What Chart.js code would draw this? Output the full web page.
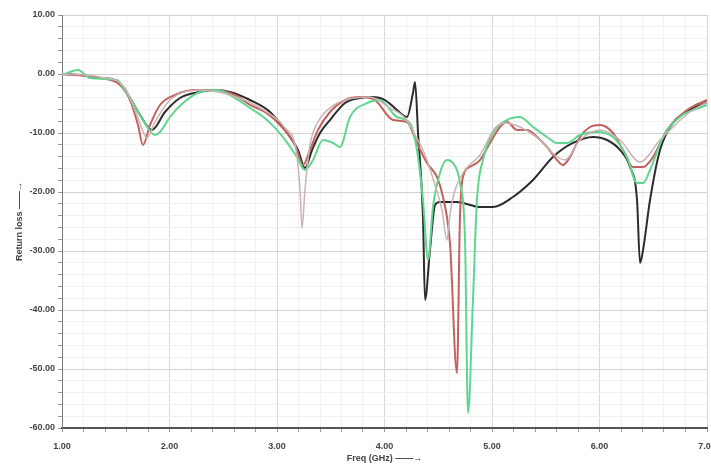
<!DOCTYPE html>
<html>
<head>
<meta charset="utf-8">
<script src="https://cdn.jsdelivr.net/npm/chart.js@4.4.0/dist/chart.umd.min.js"></script>
<style>
  html, body { margin: 0; padding: 0; background: #ffffff; }
  #wrap { width: 711px; height: 466px; position: relative; }
</style>
</head>
<body>
<div id="wrap"><canvas id="c" width="711" height="466"></canvas></div>
<script>
// Frequency (GHz) and return loss (dB)
const blackFreq = [1.000,1.167,1.353,1.493,1.586,1.726,1.837,1.958,2.098,2.284,2.423,2.563,2.749,2.935,3.074,3.195,3.260,3.326,3.400,3.493,3.633,3.772,3.884,4.005,4.116,4.209,4.265,4.284,4.312,4.358,4.377,4.423,4.470,4.516,4.674,4.888,5.009,5.195,5.381,5.567,5.753,5.940,6.070,6.191,6.284,6.349,6.377,6.405,6.470,6.563,6.684,6.842,7.000];
const blackDb   = [0.00,-0.17,-0.68,-1.02,-2.71,-6.95,-9.49,-6.44,-4.07,-3.05,-2.71,-3.05,-4.41,-6.44,-9.49,-12.88,-15.93,-12.88,-10.00,-7.80,-4.92,-4.07,-3.90,-4.41,-6.10,-7.29,-3.22,-1.36,-10.00,-24.24,-38.31,-29.83,-22.20,-21.69,-21.69,-22.54,-22.54,-20.85,-17.97,-14.07,-11.69,-10.68,-11.19,-12.88,-15.76,-21.36,-32.03,-29.83,-21.36,-12.88,-8.31,-6.10,-4.75];

const redFreq = [1.000,1.353,1.540,1.633,1.707,1.753,1.819,1.912,2.051,2.237,2.423,2.609,2.749,2.888,3.028,3.167,3.242,3.307,3.381,3.493,3.633,3.772,3.912,4.079,4.209,4.302,4.395,4.488,4.544,4.609,4.674,4.702,4.730,4.795,4.888,4.981,5.074,5.140,5.233,5.326,5.419,5.512,5.605,5.660,5.726,5.819,5.912,6.005,6.126,6.219,6.312,6.405,6.498,6.628,6.814,7.000];
const redDb   = [0.00,-0.68,-1.86,-4.41,-8.64,-12.03,-8.64,-5.25,-3.56,-2.71,-2.71,-3.56,-5.25,-6.44,-8.64,-12.03,-15.42,-12.88,-9.49,-6.44,-4.41,-3.90,-4.41,-7.80,-8.14,-11.69,-15.08,-17.46,-20.85,-28.64,-50.68,-24.24,-17.46,-15.76,-14.58,-11.69,-8.98,-8.14,-9.49,-9.49,-10.68,-12.37,-14.58,-15.42,-14.07,-10.68,-8.98,-8.64,-10.00,-12.88,-15.76,-15.76,-14.07,-9.49,-6.10,-4.41];

const greenFreq = [1.000,1.149,1.260,1.512,1.567,1.660,1.753,1.865,1.912,2.005,2.126,2.284,2.442,2.563,2.749,2.907,3.056,3.186,3.260,3.335,3.428,3.521,3.586,3.679,3.837,3.958,4.116,4.237,4.302,4.358,4.405,4.451,4.516,4.581,4.637,4.702,4.749,4.777,4.823,4.860,4.916,5.009,5.140,5.260,5.381,5.512,5.605,5.698,5.819,5.977,6.126,6.256,6.349,6.405,6.470,6.591,6.749,7.000];
const greenDb   = [-0.17,0.68,-0.68,-1.02,-2.20,-4.92,-7.80,-10.34,-9.83,-7.29,-4.92,-3.05,-2.71,-3.56,-5.76,-7.80,-10.68,-14.07,-16.27,-14.58,-11.19,-11.69,-12.37,-7.29,-4.92,-4.41,-7.29,-8.31,-12.88,-21.36,-31.53,-22.54,-16.78,-14.58,-15.08,-18.47,-28.14,-57.46,-38.31,-21.36,-14.58,-10.00,-7.80,-7.29,-8.98,-10.68,-11.69,-11.69,-10.34,-9.83,-10.68,-14.07,-18.47,-18.47,-16.27,-10.68,-7.29,-5.25];

const grayFreq = [1.000,1.353,1.586,1.707,1.791,1.865,2.005,2.284,2.563,2.842,3.074,3.177,3.214,3.233,3.260,3.307,3.381,3.493,3.633,3.865,4.051,4.191,4.284,4.377,4.470,4.535,4.581,4.609,4.656,4.749,4.888,5.028,5.121,5.260,5.447,5.586,5.679,5.819,6.005,6.191,6.377,6.563,6.842,7.000];
const grayDb   = [0.00,-0.51,-2.37,-7.46,-10.85,-8.14,-4.41,-2.71,-3.56,-5.76,-9.15,-12.88,-19.66,-26.10,-19.66,-12.03,-8.14,-5.76,-4.41,-3.90,-5.76,-7.46,-10.34,-13.73,-18.81,-23.05,-28.14,-23.90,-19.66,-16.27,-13.73,-9.15,-8.31,-8.98,-11.19,-13.73,-14.58,-11.19,-9.49,-11.19,-14.92,-11.19,-6.44,-4.75];

const xTickValues = [1, 2, 3, 4, 5, 6, 7];
const yTickValues = [10, 0, -10, -20, -30, -40, -50, -60];

function pts(fs, vs) { return fs.map((f, i) => ({ x: f, y: vs[i] })); }
function isMajor(v, list) { return list.some(t => Math.abs(t - v) < 1e-6); }

const ds = (label, fs, vs, color, w) => ({
  label, data: pts(fs, vs), borderColor: color, backgroundColor: color,
  borderWidth: w, pointRadius: 0, cubicInterpolationMode: 'monotone', fill: false
});

new Chart(document.getElementById('c'), {
  type: 'line',
  data: {
    datasets: [
      ds('gray', grayFreq, grayDb, '#c9b4b4', 1.5),
      ds('green', greenFreq, greenDb, '#5fd68f', 2),
      ds('red', redFreq, redDb, '#c2615e', 2),
      ds('black', blackFreq, blackDb, '#2c2c2c', 2)
    ]
  },
  options: {
    responsive: false,
    animation: false,
    layout: { padding: { top: 15, right: 4, left: 0, bottom: 0 } },
    plugins: { legend: { display: false }, tooltip: { enabled: false } },
    scales: {
      x: {
        type: 'linear', min: 1, max: 7,
        afterFit: s => { s.height = 38; s.paddingLeft = 0; s.paddingRight = 0; },
        ticks: {
          stepSize: 0.2, autoSkip: false, maxRotation: 0, padding: 9,
          color: '#444', font: { family: 'Liberation Sans', size: 9, weight: 'bold' },
          callback: v => isMajor(v, xTickValues) ? v.toFixed(2) : ''
        },
        grid: {
          color: c => isMajor(c.tick.value, xTickValues) ? '#d8d8d8' : '#f2f2f2',
          tickLength: 4, tickColor: '#999'
        },
        border: { color: '#555', width: 2 },
        title: {
          display: true, text: 'Freq (GHz) ——→', color: '#444',
          font: { family: 'Liberation Sans', size: 9, weight: 'bold' },
          padding: { top: 0, bottom: 2 }
        }
      },
      y: {
        type: 'linear', min: -60, max: 10,
        afterFit: s => { s.width = 62; s.paddingTop = 0; s.paddingBottom = 0; },
        ticks: {
          stepSize: 2, autoSkip: false, padding: 3,
          color: '#444', font: { family: 'Liberation Sans', size: 9, weight: 'bold' },
          callback: v => isMajor(v, yTickValues) ? v.toFixed(2) : ''
        },
        grid: {
          color: c => isMajor(c.tick.value, yTickValues) ? '#d2d2d2' : '#f0f0f0',
          tickLength: 4, tickColor: '#999'
        },
        border: { color: '#777', width: 1 },
        title: {
          display: true, text: 'Return loss ——→', color: '#444',
          font: { family: 'Liberation Sans', size: 9, weight: 'bold' },
          padding: { top: 14, bottom: 0 }
        }
      }
    }
  }
});
</script>
</body>
</html>
